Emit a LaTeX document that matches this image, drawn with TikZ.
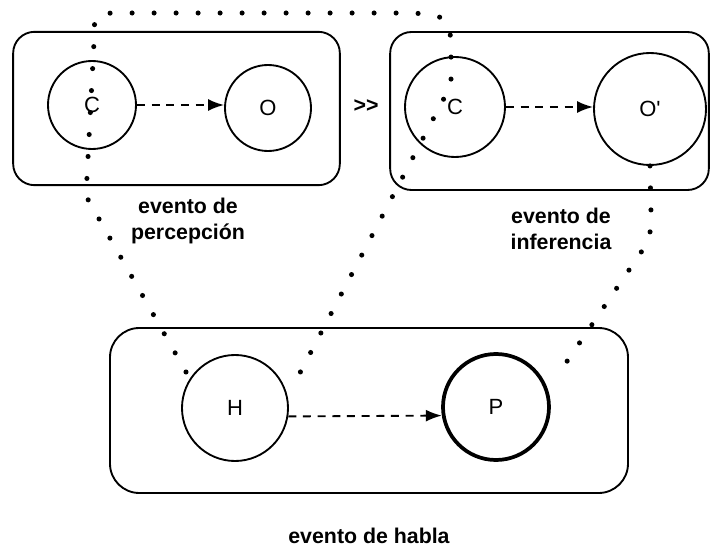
\documentclass[tikz,border=0pt]{standalone}
\usepackage{fontspec}
\setmainfont{Liberation Sans}
\usepackage{xcolor}
\usetikzlibrary{arrows.meta}

\tikzset{
  evbox/.style={draw, line width=1.4pt, rounded corners=16pt, inner sep=0pt},
  ent/.style={draw, circle, line width=1.4pt, inner sep=0pt, font=\fontsize{16.5}{18}\selectfont},
  rel/.style={dash pattern=on 6pt off 5pt, line width=1.4pt, -{Latex[length=12pt,width=9pt]}},
  dotline/.style={line width=3.8pt, line cap=round, dash pattern=on 0pt off 16.5pt},
  evlabel/.style={align=center, font=\bfseries\fontsize{16}{19}\selectfont}
}

\begin{document}
\begin{tikzpicture}[x=0.75pt, y=-0.75pt]
        \useasboundingbox (0,0) rectangle (711,549);

        % Event boxes
        \node[evbox, minimum width=245pt, minimum height=115pt] (perc) at (176.5,108.5) {};
        \node[evbox, minimum width=239pt, minimum height=118.5pt] (infer) at (549.5,111) {};
        \node[evbox, minimum width=388.5pt, minimum height=123.75pt, rounded corners=22pt] (habla) at (369,410.5) {};

        % Entities
        \node[ent, minimum size=66pt] (C1) at (92,105) {C};
        \node[ent, minimum size=64.5pt] (O1) at (268,108) {O};
        \node[ent, minimum size=75pt] (C2) at (455,107) {C};
        \node[ent, minimum size=84pt] (O2) at (650,109) {O\textquotesingle};
        \node[ent, minimum size=79.5pt] (H) at (235,408) {H};
        \node[ent, minimum size=79.5pt, line width=2.8pt] (P) at (496,407) {P};

        % Relations
        \draw[rel] (C1.east) -- (C1.east -| O1.west);
        \draw[rel] (C2.east) -- (C2.east -| O2.west);
        \draw[rel] (H.-9) -- (P.189);
        \node[font=\bfseries\fontsize{16}{18}\selectfont] (gt) at (366,106) {>\kern0pt>};

        % Labels
        \node[evlabel] (percLbl) at (188,221) {evento de\\percepción};
        \node[evlabel] (inferLbl) at (561,229) {evento de\\inferencia};
        \node[evlabel] (hablaLbl) at (369,536) {evento de habla};

        % Dotted links
        \coordinate (hL) at (186,372);
        \coordinate (hR) at (292,388);
        \coordinate (pEnd) at (555,379);
        \draw[dotline] (hL) -- (86,196) -- (94,42) .. controls (94,13) .. (122,13)
            -- (385,13) .. controls (451,13) .. (451,60) -- (451,85) -- (hR);
        \draw[dotline] (O2.south) -- (651,212) .. controls (651,232) .. (644,248) -- (pEnd);
\end{tikzpicture}
\end{document}
